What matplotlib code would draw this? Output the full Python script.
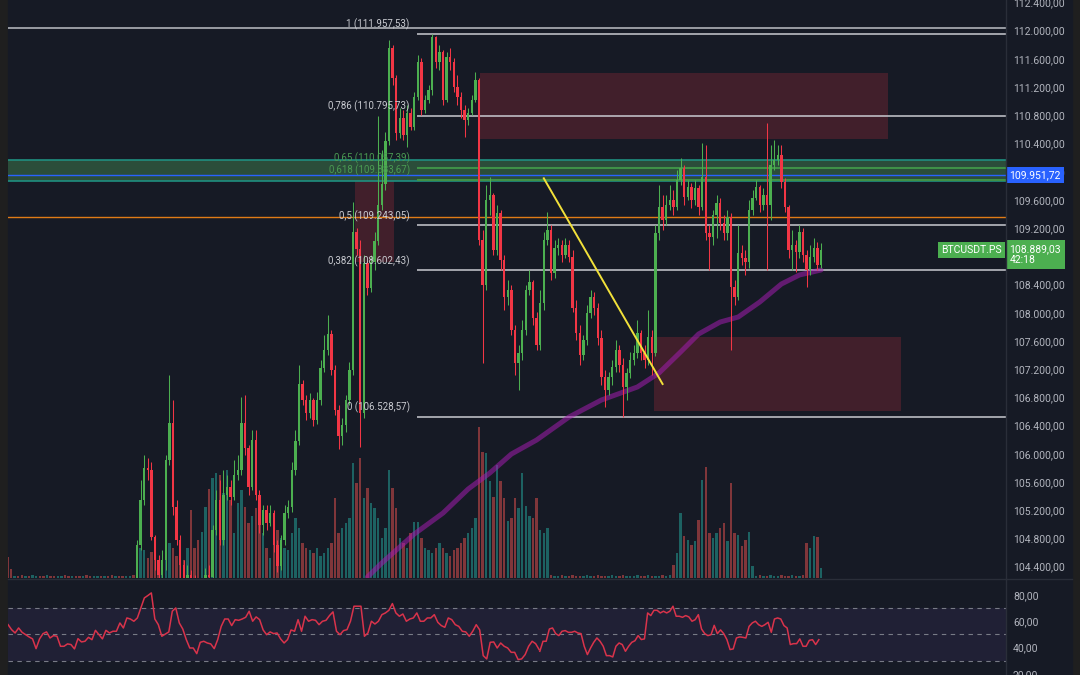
import numpy as np
import matplotlib.pyplot as plt
import matplotlib.transforms as mtransforms
from matplotlib.patches import Rectangle
from matplotlib.lines import Line2D

plt.rcParams['font.family'] = ['Roboto', 'DejaVu Sans']

BG = '#161a25'
UP = '#4caf50'
DOWN = '#f23645'
TXT = '#b2b5be'

# ---------------- BTCUSDT.PS candles ----------------
opens = [
    104140, 104707, 105345, 105799, 105770, 104820, 104494, 104282, 104494, 105912,
    106437, 105246, 104778, 104423, 104239, 104282, 104211, 104140, 104069, 104140,
    104282, 104253, 104920, 105345, 104778, 105416, 105529, 105388, 105700, 105770,
    106437, 106082, 105529, 106196, 105416, 104991, 105203, 105019, 105161, 104707,
    104409, 104778, 105161, 105246, 105770, 106182, 106990, 106763, 106579, 106763,
    106479, 106763, 107217, 107472, 107699, 107189, 106621, 106253, 106409, 106763,
    107189, 109145, 108904, 106579, 108706, 108351, 108720, 109018, 109528, 109826,
    110436, 111754, 111329, 110549, 110762, 110521, 110833, 110634, 111060, 111556,
    110875, 111017, 111159, 111910, 111556, 111698, 111017, 111627, 111556, 111201,
    111060, 110875, 110733, 110833, 111017, 111301, 109032, 108394, 109599, 109670,
    108890, 109415, 108748, 108224, 108323, 107756, 107288, 107429, 107756, 108323,
    108436, 107926, 107543, 108139, 109032, 109174, 108564, 108918, 108961, 108819,
    108961, 108791, 108068, 107713, 107401, 107614, 107997, 108224, 108068, 107642,
    107089, 106905, 107089, 107231, 107472, 107259, 106947, 107146, 107330, 107429,
    107713, 107429, 107330, 107656, 107429, 109131, 109500, 109315, 109528, 109599,
    109500, 109883, 110053, 109642, 109783, 109599, 109769, 109500, 109925, 109131,
    109074, 109386, 109557, 109273, 109131, 109358, 108365, 108224, 108847, 108777,
    108720, 109457, 109627, 109783, 109528, 109670, 109528, 110095, 110166, 110237,
    109854, 109500, 108890, 108961, 108862, 109145, 108819, 108607, 108791, 108918,
    108677]
highs = [
    104778, 105629, 105983, 105940, 105884, 104849, 104565, 104636, 105983, 107118,
    106763, 105345, 104849, 104494, 104423, 104352, 104282, 104211, 104239, 104381,
    104423, 104991, 105487, 105629, 105770, 105700, 105629, 105912, 105983, 106805,
    106834, 106125, 106338, 106338, 105487, 105274, 105274, 105274, 105203, 104778,
    104849, 105274, 105345, 105884, 106338, 107259, 107047, 106834, 106862, 106791,
    106876, 107330, 107685, 107968, 107756, 107259, 106692, 106508, 106834, 107302,
    109571, 109202, 109032, 108819, 108748, 108819, 109145, 110790, 110308, 110563,
    111868, 111797, 111372, 110904, 110875, 110946, 110904, 111130, 111655, 111613,
    111088, 111230, 111957.53, 111925, 111797, 111726, 111698, 111754, 111613, 111372,
    111130, 110946, 110904, 111088, 111414, 111329, 109174, 109812, 109925, 109698,
    109528, 109457, 108819, 108465, 108394, 107827, 107543, 107897, 108394, 108607,
    108465, 108011, 108323, 109145, 109429, 109245, 109032, 109060, 109032, 109060,
    109032, 108890, 108181, 107827, 107685, 108110, 108323, 108294, 108139, 107756,
    107189, 107160, 107330, 107614, 107543, 107359, 107217, 107444, 107543, 107897,
    107756, 107543, 108039, 107756, 109245, 109812, 109670, 109670, 109812, 109741,
    110024, 110195, 110095, 109883, 109840, 109883, 109812, 110407, 110379, 109245,
    109457, 109670, 109627, 109386, 109457, 109415, 108465, 109245, 108961, 108890,
    109599, 109741, 109883, 109812, 109769, 110691, 110379, 110450, 110379, 110379,
    109911, 109528, 109174, 109032, 109245, 109202, 108890, 108961, 109060, 109004,
    108989]
lows = [
    104069, 104636, 105274, 105629, 104778, 104352, 104140, 104211, 104352, 105841,
    105132, 104707, 104239, 104069, 104140, 104069, 103998, 103927, 103998, 104069,
    104140, 104211, 104849, 104707, 104707, 105345, 105274, 105345, 105629, 105700,
    105983, 105416, 105487, 105345, 104877, 104849, 104920, 104976, 104608, 104324,
    104352, 104707, 105090, 105175, 105700, 106125, 106692, 106479, 106508, 106394,
    106423, 106692, 107160, 107401, 107118, 106550, 106068, 106125, 106309, 106692,
    107118, 108819, 106097, 106508, 108252, 108294, 108607, 108961, 109457, 109741,
    110379, 111230, 110450, 110478, 110450, 110351, 110592, 110592, 111017, 110804,
    110833, 110975, 111088, 111471, 111442, 110946, 110989, 111442, 111130, 110946,
    110762, 110492, 110663, 110804, 110989, 108961, 107288, 108323, 109386, 108819,
    108819, 108607, 108039, 108110, 107685, 107118, 106905, 107330, 107685, 108252,
    107827, 107472, 107472, 108039, 108961, 108465, 108493, 108819, 108720, 108777,
    108720, 108011, 107614, 107259, 107330, 107543, 107926, 107968, 107543, 106976,
    106664, 106834, 106976, 107160, 107160, 106528.57, 106763, 107075, 107259, 107359,
    107330, 107217, 107259, 107118, 107387, 109032, 109174, 109245, 109457, 109386,
    109457, 109812, 109528, 109599, 109486, 109528, 109386, 109457, 109032, 108607,
    108961, 109060, 109174, 109032, 109032, 107472, 108110, 108181, 108677, 108536,
    108635, 109386, 109599, 109429, 109457, 108607, 109315, 110024, 110095, 109769,
    109429, 108777, 108607, 108578, 108777, 108720, 108365, 108536, 108720, 108607,
    108635]
closes = [
    104707, 105345, 105799, 105770, 104820, 104494, 104282, 104494, 105912, 106437,
    105246, 104778, 104423, 104239, 104282, 104211, 104140, 104069, 104140, 104282,
    104253, 104920, 105345, 104778, 105416, 105529, 105388, 105700, 105770, 106437,
    106082, 105529, 106196, 105416, 104991, 105203, 105019, 105161, 104707, 104409,
    104778, 105161, 105246, 105770, 106182, 106990, 106763, 106579, 106763, 106479,
    106763, 107217, 107472, 107699, 107189, 106621, 106253, 106409, 106763, 107189,
    109145, 108904, 106579, 108706, 108351, 108720, 109018, 109528, 109826, 110436,
    111754, 111329, 110549, 110762, 110521, 110833, 110634, 111060, 111556, 110875,
    111017, 111159, 111910, 111556, 111698, 111017, 111627, 111556, 111201, 111060,
    110875, 110733, 110833, 111017, 111301, 109032, 108394, 109599, 109670, 108890,
    109415, 108748, 108224, 108323, 107756, 107288, 107429, 107756, 108323, 108436,
    107926, 107543, 108139, 109032, 109174, 108564, 108918, 108961, 108819, 108961,
    108791, 108068, 107713, 107401, 107614, 107997, 108224, 108068, 107642, 107089,
    106905, 107089, 107231, 107472, 107259, 106947, 107146, 107330, 107429, 107713,
    107429, 107330, 107656, 107429, 109131, 109500, 109315, 109528, 109599, 109500,
    109883, 110053, 109642, 109783, 109599, 109769, 109500, 109925, 109131, 109074,
    109386, 109557, 109273, 109131, 109358, 108365, 108224, 108847, 108777, 108720,
    109457, 109627, 109783, 109528, 109670, 109528, 110095, 110166, 110237, 109854,
    109500, 108890, 108961, 108862, 109145, 108819, 108607, 108791, 108918, 108677,
    108889.03]

volume = [
    25, 30, 28, 20, 26, 22, 18, 15, 40, 35, 30, 22, 20, 18,
    30, 68, 30, 38, 46, 71, 89,
    100, 105, 103, 85, 108, 78, 45, 75, 88, 71,
    55, 62, 70, 58, 45, 30, 20,
    35, 48, 40, 30, 28, 45, 60, 50, 35, 30, 28, 25, 30,
    22, 25, 30, 35, 80, 45, 50, 55, 60,
    115, 95, 120, 80, 90, 75, 70, 60, 40, 50,
    108, 90, 70, 40, 35, 30, 45, 56, 56, 40, 30,
    28, 25, 30, 35, 30, 25, 22, 28, 30, 35, 40, 45, 50, 60,
    151, 126, 125, 97, 81, 113, 97, 80, 57, 60, 80, 70, 105, 72, 62, 60, 80, 48, 45, 50,
    3, 2, 2, 3, 2, 2, 3, 2, 2, 2, 3, 2, 2, 3, 2, 2, 2, 3, 2, 2, 3, 2, 2, 2, 3, 2, 2, 3,
    2, 2, 2, 3, 2, 3,
    13, 25, 65, 42, 38, 33, 37, 58, 98, 111, 45, 40, 45, 50, 55, 37, 95, 45, 43, 32,
    38, 46, 12,
    2, 3, 2, 2, 3, 2, 2, 3, 2, 2, 3, 2, 2, 3,
    35, 30, 42, 41, 10]

# bars before the first candle that is inside the price range
lead_volume = [21, 9, 2, 2, 3, 2, 2, 3, 2, 2, 2, 3, 2, 2, 2, 2, 3, 2,
               2, 2, 2, 2, 3, 2, 2, 2, 2, 2, 2, 3, 2, 2, 2, 2, 2, 3]
lead_dir = "ddudduduuddudduudduddudduududdudduud"

# RSI, left part and right part of the pane
rsi_a = [57.3, 53.5, 51, 54.8, 51.5, 49.7, 48, 46.5, 39.1, 46.5, 50.5, 51.8, 47.2, 49,
         48.5, 40.9, 40.9, 42.7, 42.2, 38.9, 46.7, 44.2, 44.7, 47.7, 45.9, 53, 49.7,
         46.5, 53, 51, 52.3, 52.3, 58.6, 54.8, 62.4, 61.6, 59.9, 62.4, 70, 77.6, 79.4,
         81.4, 61.6, 57.3, 48.5, 50.2, 51.8, 67.5, 70, 58.6, 54, 46, 39.6, 39.6, 35.3,
         43.9, 44.7, 43.4, 42.7, 39.1, 46, 56, 61.6, 61.6, 56.6, 61.1, 60.6, 61.6, 62.9,
         67.5, 59.9, 63.2, 61.1, 53.3, 49.7, 51.8, 50.5, 51, 46.5, 43.4, 46, 53.3, 52.3,
         61.1, 52.3, 63.7, 59.9, 61.1, 60.6, 57.3, 59.9, 60.6, 64.2, 67, 52.3, 49.7,
         52.8, 53.5, 59.9, 71.3, 71.3, 71.3, 48.5, 51, 59.9, 57.8, 59.9, 64.9, 66.2,
         68.2, 73.3, 66.2, 63.7, 65.4, 59.9, 61.6, 62.4, 66.2, 59.9, 59.9, 62.4, 62.4,
         64.9, 59.1, 56.6, 55.3, 62.4, 61.1, 57.3, 56, 52.3, 51.8, 48.5, 52.3, 57.3,
         53.3, 33.8, 31.3, 43.9, 44.2, 39.6, 43.4, 40.9, 39.6, 36.3, 36.3, 30.8, 31.3,
         34.6, 40.9, 44.7, 42.9, 38.4]
rsi_b = [37.1, 44.7, 44.7, 54, 54.8, 50.5, 49, 52.3, 52.8, 51.5, 51.5, 52.3, 51, 50.5,
         40.9, 34.6, 39.6, 43.9, 47.2, 44.7, 40.9, 33.8, 33.8, 32.8, 40.9, 43.4, 42.2,
         37.1, 40.9, 43.9, 45.1, 49, 46, 46.5, 66.2, 64.2, 68.2, 68.2, 66.2, 67.5, 66.2,
         67.5, 71.3, 63.7, 63.7, 62.9, 64.2, 63.2, 59.9, 61.1, 64.9, 54, 50.5, 49, 49.7,
         56.8, 50.5, 53.3, 50.5, 46, 38.4, 38.9, 47.2, 48, 47.7, 47.2, 56, 58.6, 59.9,
         57.3, 56, 57.3, 59.1, 51.5, 61.6, 62.4, 61.6, 56.6, 54.8, 42.2, 42.9, 42.9,
         46.5, 40.9, 40.9, 45.4, 45.9, 42.2, 45.9]

# moving average (purple), read at some candles
ma_idx = [64, 68, 77, 85, 92, 98, 104, 111, 120, 129, 139, 145, 151, 156, 162, 167,
          173, 179, 184, 190]
ma_val = [104253, 104452, 104862, 105160, 105501, 105728, 105997, 106196, 106522,
          106763, 106948, 107146, 107444, 107699, 107869, 107940, 108153, 108408,
          108536, 108607]

# drawings
trend_idx = [113, 146]
trend_val = [109907, 106990]
fib_low, fib_high = 106528.57, 111957.53
fib_ratios = [1, 0.786, 0.65, 0.618, 0.5, 0.382, 0]
zones = [(95.3, 208.6, 110464, 111396),    # (first idx, last idx, low, high)
         (60.6, 71.4, 108720, 109869),
         (143.6, 212.2, 106607, 107661)]
band_low, band_high = 109873, 110166
top_line = 112038
orange_line = 109362
mark_price = 109951.72
last_price = 108889.03
price_ticks = list(range(104400, 112401, 400))
hidden_ticks = [108800]          # covered by the last-price label
rsi_ticks = [80, 60, 40, 20]


def eu(v):
    s = f"{v:,.2f}"
    return s.replace(',', ' ').replace('.', ',').replace(' ', '.')


W, H = 1080, 675


def rect(x0, y0, x1, y1):
    return [x0 / W, 1 - y1 / H, (x1 - x0) / W, (y1 - y0) / H]


fig = plt.figure(figsize=(W / 100, H / 100), dpi=100, facecolor='#1f1f1f')
fig.patches.append(Rectangle((8 / W, 0), (1072 - 8) / W, 1, transform=fig.transFigure,
                             color=BG, zorder=-10))

XL, XR = -35.83, 241.39

ax_v = fig.add_axes(rect(8, 0, 1006, 578))
ax = fig.add_axes(rect(8, 0, 1006, 578))
ax_r = fig.add_axes(rect(8, 580, 1006, 675))
for a in (ax_v, ax, ax_r):
    a.set_facecolor('none')
    a.set_xlim(XL, XR)
    for s in a.spines.values():
        s.set_visible(False)
    a.set_xticks([])
ax_v.set_yticks([])

# volume
o = np.array(opens, float)
h = np.array(highs, float)
l = np.array(lows, float)
c = np.array(closes, float)
idx = np.arange(len(c))
up = c >= o
vcol = np.where(up, '#1d6262', '#80363a')
ax_v.bar(idx, volume, width=0.62, color=vcol, lw=0)
lead_idx = np.arange(-len(lead_volume), 0)
ax_v.bar(lead_idx, lead_volume, width=0.62,
         color=['#1d6262' if d == 'u' else '#80363a' for d in lead_dir], lw=0)
ax_v.set_ylim(0, 578)

# price pane
ax.set_ylim(104239.3, 112435.3)
for i0, i1, p0, p1 in zones:
    ax.add_patch(Rectangle((i0, p0), i1 - i0, p1 - p0, fc=DOWN, alpha=0.2, lw=0, zorder=1))

ax.axhspan(band_low, band_high, color='#2b4d3a', lw=0, zorder=1)
ax.axhline(band_high, color='#1f8f80', lw=1.2, zorder=2)
ax.axhline(band_low, color='#1f8f80', lw=1.2, zorder=2)
ax.axhline(mark_price, color='#2962ff', lw=1, zorder=2)
ax.axhline(orange_line, color='#e07b16', lw=1, zorder=2)
ax.axhline(top_line, color='#a3a6ad', lw=1.3, zorder=2)

fib_x0 = 77.8
for r in fib_ratios:
    lvl = fib_low + r * (fib_high - fib_low)
    green = r in (0.65, 0.618)
    ax.hlines(lvl, fib_x0, XR, colors='#3f9147' if green else '#c9cbd1',
              lw=1.5 if green else 1.1, zorder=2)
    lab = f"{r:g}".replace('.', ',') + f" ({eu(lvl)})"
    ax.annotate(lab, xy=(75.8, lvl), xytext=(0, 2.5), textcoords='offset points',
                ha='right', va='bottom', fontsize=7,
                color='#4a9a52' if green else '#c9cbd1', zorder=7)

ax.plot(ma_idx, ma_val, color='#a21caf', lw=3.6, alpha=0.55, zorder=3,
        solid_capstyle='round')

col = np.where(up, UP, DOWN)
ax.vlines(idx, l, h, colors=col, lw=0.75, zorder=4)
body_lo = np.minimum(o, c)
body_h = np.maximum(np.abs(c - o), 12)
ax.bar(idx, body_h, bottom=body_lo, width=0.65, color=col, lw=0, zorder=4)

ax.plot(trend_idx, trend_val, color='#f2e13a', lw=1.4, zorder=6)

ax.yaxis.tick_right()
ax.set_yticks(price_ticks)
ax.set_yticklabels(['' if v in hidden_ticks else eu(v) for v in price_ticks])
ax.tick_params(axis='y', length=0, pad=5, labelsize=7.5, colors=TXT)

tr = mtransforms.blended_transform_factory(ax.transAxes, ax.transData)
ax.annotate(eu(mark_price), xy=(1, mark_price), xycoords=tr, xytext=(2.5, 0),
            textcoords='offset points', ha='left', va='center', fontsize=7.5,
            color='white', zorder=10, annotation_clip=False,
            bbox=dict(boxstyle='square,pad=0.3', fc='#2962ff', ec='none'))
ax.annotate(eu(last_price) + "\n42:18", xy=(1, last_price), xycoords=tr,
            xytext=(2.5, 4.5), textcoords='offset points', ha='left', va='top',
            fontsize=7.5, color='white', zorder=10, annotation_clip=False,
            linespacing=1.15,
            bbox=dict(boxstyle='square,pad=0.35', fc=UP, ec='none'))
ax.annotate('BTCUSDT.PS', xy=(1, last_price), xycoords=tr, xytext=(-3, 0),
            textcoords='offset points', ha='right', va='center', fontsize=7.5,
            color='white', zorder=10, annotation_clip=False,
            bbox=dict(boxstyle='square,pad=0.28', fc=UP, ec='none'))

# RSI pane
ax_r.set_ylim(19.1, 91.2)
ax_r.axhspan(30, 70, color='#7e57c2', alpha=0.1, lw=0)
for lv in (70, 50, 30):
    ax_r.axhline(lv, color='#787b86', lw=0.8, dashes=(4, 4))
ax_r.plot(np.linspace(-35.8, 111.7, len(rsi_a)), rsi_a, color='#d9334b', lw=1.1)
ax_r.plot(np.linspace(111.9, 189.4, len(rsi_b)), rsi_b, color='#d9334b', lw=1.1)
ax_r.yaxis.tick_right()
ax_r.set_yticks(rsi_ticks)
ax_r.set_yticklabels([eu(v) for v in rsi_ticks])
ax_r.tick_params(axis='y', length=0, pad=5, labelsize=7.5, colors=TXT)

# pane separators
fig.add_artist(Line2D([1006 / W, 1006 / W], [0, 1], color='#2a2e39', lw=1))
fig.add_artist(Line2D([8 / W, 1072 / W], [1 - 579 / H, 1 - 579 / H], color='#2a2e39', lw=1))

plt.savefig('out.png', dpi=100, facecolor=fig.get_facecolor())
